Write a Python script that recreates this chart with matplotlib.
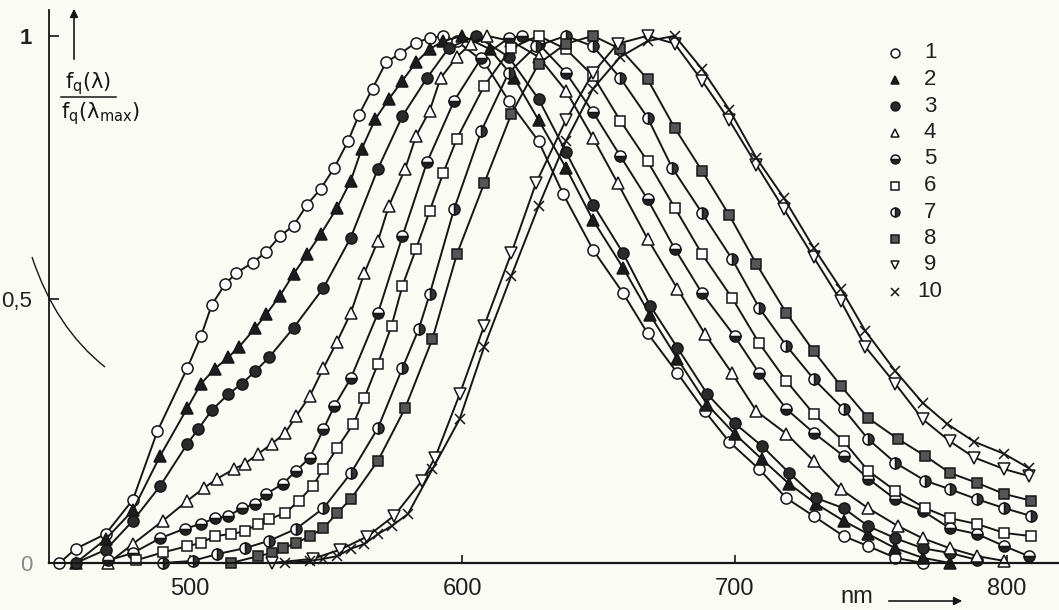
import matplotlib
matplotlib.use("Agg")
import matplotlib.pyplot as plt
from matplotlib.lines import Line2D
from matplotlib.path import Path
from matplotlib.patches import PathPatch

plt.rcParams['mathtext.default'] = 'regular'
FONT = ['Liberation Sans', 'DejaVu Sans']

# Normalised emission spectra f_q(λ)/f_q(λ_max) of samples 1-10, wavelength in nm
wl1 = [452, 458, 469, 479, 488, 499, 504, 508, 513, 517, 523, 528, 533, 538, 543, 548,
       553, 558, 562, 567, 572, 577, 583, 588, 593, 598, 608, 617, 628, 637, 648, 659,
       668, 679, 689, 698, 709, 719, 729, 740, 749, 759, 769]
f1 = [0.0, 0.027, 0.055, 0.12, 0.25, 0.37, 0.43, 0.49, 0.53, 0.55, 0.57, 0.59, 0.62, 0.64,
      0.68, 0.71, 0.75, 0.80, 0.85, 0.90, 0.95, 0.966, 0.987, 0.996, 1.0, 0.99, 0.95, 0.877,
      0.80, 0.70, 0.594, 0.512, 0.436, 0.36, 0.288, 0.23, 0.178, 0.123, 0.089, 0.051, 0.032,
      0.01, 0.0]

wl2 = [458, 469, 479, 489, 499, 504, 509, 514, 518, 524, 528, 533, 538, 543, 548, 554,
       559, 563, 568, 573, 578, 583, 588, 593, 600, 610, 619, 628, 638, 648, 659, 669,
       679, 690, 700, 710, 720, 730, 740, 749, 759, 769, 779]
f2 = [0.0, 0.045, 0.10, 0.203, 0.294, 0.34, 0.368, 0.39, 0.41, 0.446, 0.472, 0.507, 0.548,
      0.586, 0.624, 0.674, 0.725, 0.785, 0.842, 0.88, 0.915, 0.95, 0.975, 0.99, 1.0, 0.975,
      0.92, 0.84, 0.75, 0.65, 0.56, 0.47, 0.387, 0.30, 0.245, 0.197, 0.15, 0.112, 0.08,
      0.055, 0.028, 0.01, 0.0]

wl3 = [458, 469, 479, 489, 499, 503, 508, 514, 519, 524, 529, 538, 549, 559, 569, 578,
       587, 595, 605, 617, 628, 638, 648, 659, 669, 679, 690, 700, 710, 720, 730, 740,
       749, 759, 769, 779, 789]
f3 = [0.0, 0.025, 0.08, 0.146, 0.226, 0.254, 0.29, 0.32, 0.34, 0.364, 0.39, 0.446, 0.522,
      0.617, 0.748, 0.848, 0.92, 0.977, 1.0, 0.96, 0.88, 0.78, 0.68, 0.588, 0.488, 0.408,
      0.32, 0.265, 0.222, 0.171, 0.123, 0.104, 0.07, 0.047, 0.028, 0.019, 0.006]

wl4 = [470, 479, 490, 499, 505, 510, 516, 520, 525, 530, 535, 539, 544, 549, 554, 559,
       564, 569, 573, 579, 583, 588, 592, 598, 603, 609, 618, 628, 638, 648, 657, 668,
       679, 689, 699, 708, 719, 729, 739, 749, 760, 769, 779, 789, 799]
f4 = [0.0, 0.036, 0.08, 0.118, 0.142, 0.16, 0.178, 0.188, 0.207, 0.226, 0.247, 0.279, 0.317,
      0.37, 0.42, 0.474, 0.55, 0.611, 0.677, 0.748, 0.81, 0.858, 0.92, 0.96, 0.985, 1.0,
      0.99, 0.96, 0.896, 0.806, 0.721, 0.615, 0.52, 0.435, 0.36, 0.288, 0.245, 0.194, 0.14,
      0.104, 0.07, 0.047, 0.028, 0.013, 0.004]

wl5 = [470, 479, 489, 498, 504, 509, 514, 519, 524, 528, 534, 539, 544, 549, 553, 559,
       569, 578, 587, 597, 607, 617, 622, 628, 638, 648, 658, 668, 678, 688, 700, 709,
       719, 729, 740, 749, 759, 769, 779, 789, 799, 808]
f5 = [0.005, 0.019, 0.047, 0.065, 0.074, 0.085, 0.089, 0.104, 0.112, 0.131, 0.15, 0.175, 0.2,
      0.254, 0.298, 0.35, 0.474, 0.62, 0.76, 0.877, 0.958, 0.996, 1.0, 0.985, 0.93, 0.855,
      0.772, 0.69, 0.596, 0.512, 0.43, 0.36, 0.292, 0.247, 0.203, 0.16, 0.121, 0.099,
      0.066, 0.055, 0.032, 0.013]

wl6 = [480, 490, 499, 504, 509, 515, 520, 525, 529, 535, 540, 545, 549, 554, 560, 564,
       569, 574, 578, 583, 588, 593, 598, 608, 618, 628, 638, 648, 658, 668, 678, 688,
       699, 709, 719, 729, 740, 749, 759, 770, 779, 789, 799, 809]
f6 = [0.005, 0.02, 0.032, 0.038, 0.051, 0.055, 0.06, 0.074, 0.083, 0.095, 0.118, 0.146,
      0.178, 0.218, 0.264, 0.313, 0.378, 0.45, 0.526, 0.596, 0.668, 0.74, 0.805, 0.905,
      0.977, 1.0, 0.975, 0.924, 0.839, 0.762, 0.674, 0.586, 0.503, 0.417, 0.345, 0.283,
      0.231, 0.175, 0.137, 0.104, 0.085, 0.074, 0.057, 0.051]

wl7 = [490, 501, 510, 520, 529, 539, 549, 559, 569, 578, 584, 588, 597, 607, 617, 627,
       638, 648, 658, 668, 677, 688, 699, 709, 719, 729, 740, 749, 759, 770, 779, 789,
       799, 809]
f7 = [0.0, 0.004, 0.017, 0.028, 0.042, 0.065, 0.104, 0.17, 0.256, 0.37, 0.444, 0.51, 0.672,
      0.82, 0.93, 0.98, 1.0, 0.98, 0.92, 0.845, 0.75, 0.664, 0.577, 0.484, 0.412, 0.349,
      0.292, 0.235, 0.19, 0.156, 0.14, 0.121, 0.104, 0.089]

wl8 = [515, 525, 530, 534, 539, 544, 549, 554, 559, 569, 579, 589, 598, 608, 618, 628,
       638, 648, 658, 668, 678, 688, 698, 708, 719, 729, 739, 749, 760, 770, 779, 789,
       799, 809]
f8 = [0.0, 0.013, 0.019, 0.028, 0.038, 0.051, 0.066, 0.095, 0.121, 0.194, 0.294, 0.425,
      0.586, 0.72, 0.852, 0.947, 0.985, 1.0, 0.975, 0.918, 0.825, 0.744, 0.66, 0.567,
      0.474, 0.402, 0.336, 0.275, 0.235, 0.203, 0.171, 0.152, 0.131, 0.118]

wl9 = [530, 545, 555, 565, 575, 585, 590, 599, 608, 618, 627, 638, 648, 657, 668, 678,
       688, 698, 708, 718, 729, 739, 748, 759, 769, 779, 788, 799, 808]
f9 = [0.0, 0.008, 0.025, 0.05, 0.09, 0.155, 0.2, 0.32, 0.45, 0.588, 0.72, 0.84, 0.93, 0.985,
      1.0, 0.985, 0.915, 0.84, 0.755, 0.672, 0.58, 0.497, 0.41, 0.34, 0.273, 0.231, 0.2,
      0.178, 0.165]

wl10 = [535, 544, 549, 554, 559, 564, 569, 574, 580, 589, 599, 608, 618, 628, 638, 648,
        658, 668, 678, 688, 698, 708, 718, 729, 739, 748, 759, 769, 778, 788, 799, 808]
f10 = [0.0, 0.004, 0.008, 0.013, 0.027, 0.036, 0.055, 0.07, 0.093, 0.178, 0.273, 0.41, 0.545,
       0.677, 0.80, 0.90, 0.96, 0.99, 1.0, 0.937, 0.86, 0.768, 0.693, 0.598, 0.52, 0.44,
       0.364, 0.304, 0.264, 0.23, 0.207, 0.18]

labels = ['1', '2', '3', '4', '5', '6', '7', '8', '9', '10']
x_ticks = [500, 600, 700, 800]
y_ticks = [0, 0.5, 1]
y_ticklabels = ['0', '0,5', '1']

series = [(wl1, f1), (wl2, f2), (wl3, f3), (wl4, f4), (wl5, f5),
          (wl6, f6), (wl7, f7), (wl8, f8), (wl9, f9), (wl10, f10)]

INK = '#161616'
PAPER = '#fbfbf6'
styles = [
    dict(marker='o', ms=8.0, mfc='white'),
    dict(marker='^', ms=8.0, mfc='#1c1c1c'),
    dict(marker='o', ms=8.0, mfc='#2a2a2a'),
    dict(marker='^', ms=8.0, mfc='white'),
    dict(marker='o', ms=8.0, mfc='#222222', fillstyle='bottom', markerfacecoloralt='white'),
    dict(marker='s', ms=7.5, mfc='white'),
    dict(marker='o', ms=8.0, mfc='#333333', fillstyle='right', markerfacecoloralt='white'),
    dict(marker='s', ms=7.5, mfc='#555555'),
    dict(marker='v', ms=8.0, mfc='white'),
    dict(marker='x', ms=6.5, mfc='none'),
]

W, H = 1059, 610
fig = plt.figure(figsize=(W / 100, H / 100), dpi=100, facecolor=PAPER)


def fx(px):
    return px / W


def fy(py):
    return 1 - py / H


ax = fig.add_axes([fx(49), fy(563), fx(1059) - fx(49), fy(10) - fy(563)])
ax.set_facecolor(PAPER)
ax.set_xlim(448.2, 819.1)
ax.set_ylim(0, 1.049)

for (wl, f), st in zip(series, styles):
    ax.plot(wl, f, color=INK, lw=1.4, mec=INK, mew=1.1, clip_on=False, **st)

for side in ('top', 'right'):
    ax.spines[side].set_visible(False)
ax.spines['left'].set_linewidth(1.3)
ax.spines['bottom'].set_linewidth(1.6)
ax.spines['left'].set_color(INK)
ax.spines['bottom'].set_color(INK)

ax.set_xticks(x_ticks)
ax.set_xticklabels([str(v) for v in x_ticks], family=FONT, fontsize=17, color='#202020')
ax.tick_params(axis='x', direction='in', length=6, width=1.2, pad=11, color=INK)
ax.set_yticks(y_ticks)
ax.set_yticklabels(y_ticklabels, family=FONT, fontsize=16, color='#202020')
ax.tick_params(axis='y', direction='in', length=7, width=1.2, pad=12, color=INK)
ax.get_yticklabels()[0].set_color('#8a8a8a')
ax.get_yticklabels()[2].set_fontweight('bold')

# ordinate caption with upward arrow
fig.text(fx(88), fy(84), r'$f_q(\lambda)$', ha='center', va='center', fontsize=15, color=INK)
fig.add_artist(Line2D([fx(61), fx(116)], [fy(97), fy(97)], color=INK, lw=1.1))
fig.text(fx(61), fy(114), r'$f_q(\lambda_{max})$', ha='left', va='center', fontsize=15,
         color=INK)
ax.annotate('', xy=(fx(74), fy(6)), xytext=(fx(74), fy(62)),
            xycoords='figure fraction', textcoords='figure fraction',
            arrowprops=dict(arrowstyle='-|>', color=INK, lw=1.2, mutation_scale=12))

# abscissa unit with arrow
fig.text(fx(857), fy(597), 'nm', ha='center', va='center', family=FONT, fontsize=17,
         color='#202020')
ax.annotate('', xy=(fx(965), fy(601)), xytext=(fx(886), fy(601)),
            xycoords='figure fraction', textcoords='figure fraction',
            arrowprops=dict(arrowstyle='-|>', color=INK, lw=1.2, mutation_scale=12))

# pencil arc drawn across the ordinate near 0,5
arc = Path([(fx(32), fy(257)), (fx(55.5), fy(328)), (fx(105), fy(367))],
           [Path.MOVETO, Path.CURVE3, Path.CURVE3])
fig.add_artist(PathPatch(arc, transform=fig.transFigure, fill=False, ec=INK, lw=1.0))

# key
for i, (lab, st) in enumerate(zip(labels, styles)):
    py = 53 + i * 26.5
    kst = dict(st)
    kst['ms'] = st['ms'] * 0.8
    fig.add_artist(Line2D([fx(895)], [fy(py)], transform=fig.transFigure, ls='none',
                          mec=INK, mew=1.1, **kst))
    fig.text(fx(930), fy(py), lab, ha='center', va='center', family=FONT, fontsize=16,
             color='#202020')

fig.savefig('out.png', dpi=100, facecolor=PAPER)
